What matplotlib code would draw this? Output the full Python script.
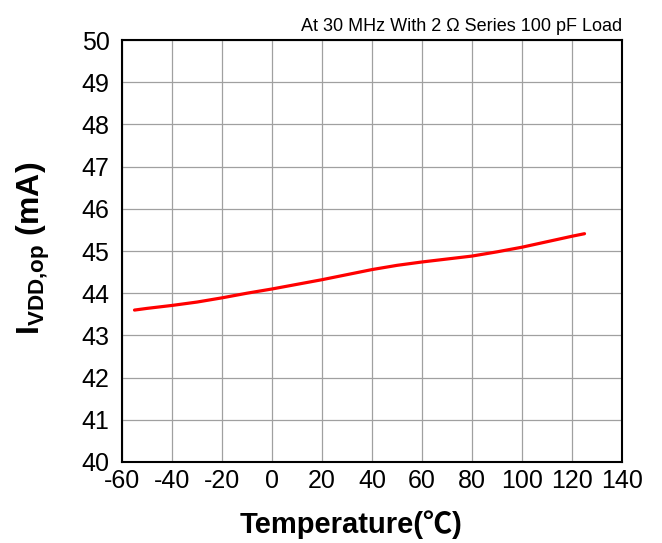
import matplotlib
matplotlib.use('Agg')
import matplotlib.pyplot as plt

plt.rcParams['font.family'] = ['Liberation Sans', 'DejaVu Sans']
plt.rcParams['mathtext.fontset'] = 'custom'
plt.rcParams['mathtext.rm'] = 'Liberation Sans'
plt.rcParams['mathtext.bf'] = 'Liberation Sans:bold'
plt.rcParams['axes.unicode_minus'] = False

# Datos
temp = [-55, -50, -40, -30, -20, -10, 0, 10, 20, 30, 40, 50, 60, 70, 80, 90, 100, 110, 120, 125]
corriente = [43.60, 43.64, 43.71, 43.79, 43.89, 44.00, 44.10, 44.21, 44.32, 44.44, 44.56,
             44.66, 44.74, 44.81, 44.88, 44.98, 45.09, 45.22, 45.35, 45.41]
xticks = [-60, -40, -20, 0, 20, 40, 60, 80, 100, 120, 140]
yticks = [40, 41, 42, 43, 44, 45, 46, 47, 48, 49, 50]

fig = plt.figure(figsize=(6.62, 5.43), dpi=100)
ax = fig.add_axes([0.1843, 0.1492, 0.7553, 0.7771])

ax.plot(temp, corriente, color='#ff0000', linewidth=2.3, solid_capstyle='round')

ax.set_xlim(-60, 140)
ax.set_ylim(40, 50)
ax.set_xticks(xticks)
ax.set_yticks(yticks)
ax.grid(True, color='#a0a0a0', linewidth=0.9)
ax.set_axisbelow(True)
ax.tick_params(length=0, labelsize=18)
ax.tick_params(axis='y', pad=9)
ax.tick_params(axis='x', pad=5)
for s in ax.spines.values():
    s.set_linewidth(1.5)
    s.set_color('black')

ax.set_xlabel('Temperature(℃)', fontsize=21, fontweight='bold',
              family=['Liberation Sans', 'Noto Sans CJK SC', 'DejaVu Sans'])
ax.xaxis.set_label_coords(0.458, -0.115)
ax.set_ylabel(r'$\mathbf{I_{VDD{,}op}}$ (mA)', fontsize=23, fontweight='bold')
ax.yaxis.set_label_coords(-0.141, 0.505)

ax.text(1.0, 1.012, 'At 30 MHz With 2 Ω Series 100 pF Load', transform=ax.transAxes,
        ha='right', va='bottom', fontsize=13)

plt.savefig('out.png', dpi=100)
